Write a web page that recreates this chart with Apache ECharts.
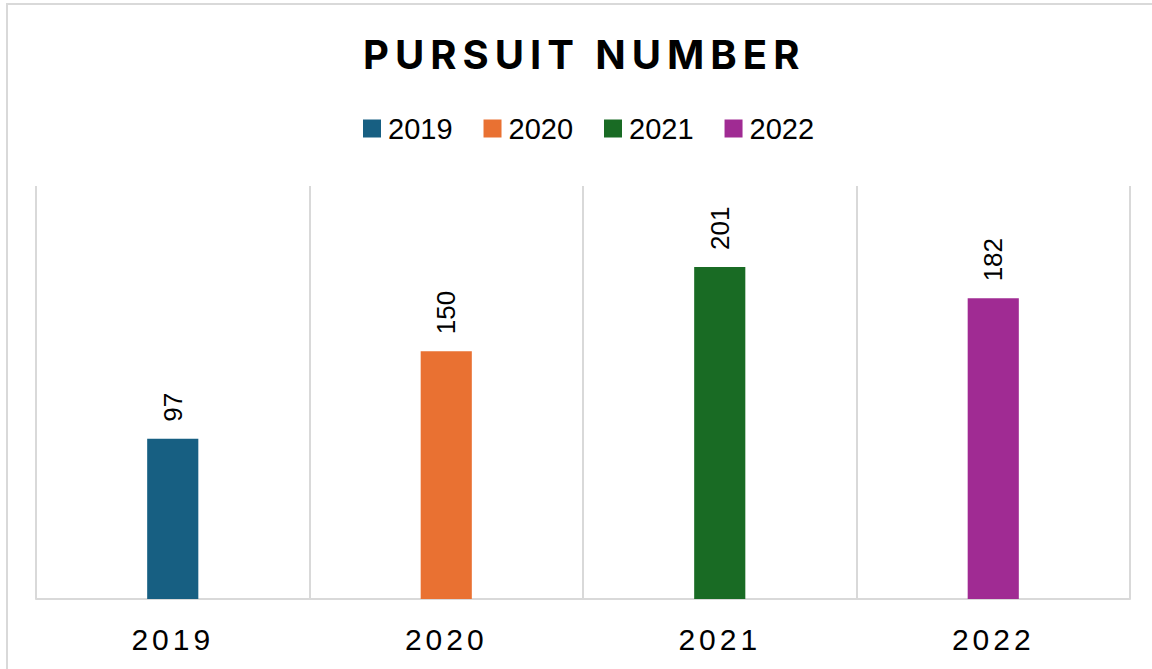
<!DOCTYPE html>
<html>
<head>
    <meta charset="utf-8">
    <title>Pursuit Number</title>
    <script src="https://cdn.jsdelivr.net/npm/echarts@6/dist/echarts.min.js"></script>
</head>
<style>
    html, body { margin: 0; padding: 0; background: #fff; }
    .frame {
        position: absolute; left: 6px; top: 3px;
        width: 1300px; height: 800px;
        border: 2px solid #d9d9d9;
    }
    #main {
        position: absolute; left: 0; top: 0;
        width: 1152px; height: 669px;
    }
    /* spaced-out text, picked by font size */
    #main text[style*="40px"] { letter-spacing: 6px; }
    #main text[style*="30px"] { letter-spacing: 4px; }
</style>
<body>
<div class="frame"></div>
<div id="main"></div>
<script>
    var years = ['2019', '2020', '2021', '2022'];
    var pursuits = [97, 150, 201, 182];
    var colors = ['#175f82', '#e97132', '#196b24', '#a02b93'];

    var chart = echarts.init(document.getElementById('main'), null, {renderer: 'svg'});

    // one series per year so the legend shows every year, stacked so bars stay centred
    var series = [];
    for (var i = 0; i < years.length; i++) {
        var d = [];
        for (var j = 0; j < years.length; j++) {
            d.push(j === i ? pursuits[i] : '-');
        }
        series.push({
            name: years[i],
            type: 'bar',
            stack: 'all',
            barWidth: '18.7%',
            data: d,
            itemStyle: {color: colors[i]},
            label: {
                show: true,
                position: 'top',
                rotate: 90,
                align: 'left',
                verticalAlign: 'middle',
                distance: 17,
                color: '#000',
                fontSize: 26,
                fontFamily: 'Liberation Sans'
            }
        });
    }

    var option = {
        animation: false,
        title: {
            text: 'PURSUIT NUMBER',
            left: 358,
            top: 29,
            padding: 5,
            textStyle: {
                fontFamily: 'Inter',
                fontWeight: 'bold',
                fontSize: 40,
                color: '#000'
            }
        },
        legend: {
            top: 109,
            left: 358,
            itemWidth: 18,
            itemHeight: 18,
            itemGap: 31,
            icon: 'rect',
            textStyle: {fontSize: 29, fontFamily: 'Liberation Sans', color: '#000', padding: [0, 0, 0, 2]},
            data: years
        },
        grid: {left: 36, right: 22, top: 186, bottom: 70, containLabel: false},
        xAxis: {
            type: 'category',
            data: years,
            axisLine: {lineStyle: {color: '#d9d9d9', width: 2}},
            axisTick: {show: false},
            splitLine: {show: true, lineStyle: {color: '#d9d9d9', width: 2}},
            axisLabel: {
                margin: 25,
                fontSize: 30,
                fontFamily: 'Liberation Sans',
                color: '#000'
            }
        },
        yAxis: {
            type: 'value',
            min: 0,
            max: 250,
            show: false,
            splitLine: {show: false}
        },
        series: series
    };
    chart.setOption(option);
</script>
</body>
</html>
